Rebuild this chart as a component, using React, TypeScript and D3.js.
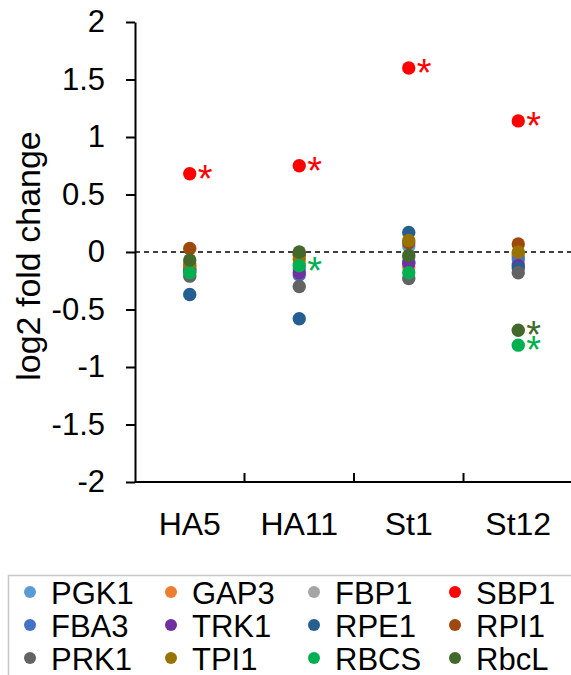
import React, { useEffect, useRef } from "react";
import * as d3 from "d3";

// samples on the x axis
const categories = ["HA5", "HA11", "St1", "St12"];

// series in legend order (row by row), log2 fold change per sample
const seriesNames = [
  "PGK1", "GAP3", "FBP1", "SBP1",
  "FBA3", "TRK1", "RPE1", "RPI1",
  "PRK1", "TPI1", "RBCS", "RbcL",
];
const seriesColors = [
  "#5B9BD5", "#ED7D31", "#A5A5A5", "#FF0000",
  "#4472C4", "#7030A0", "#255E91", "#9E480E",
  "#636363", "#997300", "#00B050", "#43682B",
];
const PGK1 = [-0.12, -0.15, 0.05, -0.04];
const GAP3 = [-0.1, -0.03, -0.13, -0.02];
const FBP1 = [-0.15, -0.1, -0.05, -0.1];
const SBP1 = [0.68, 0.75, 1.6, 1.14];
const FBA3 = [-0.15, -0.2, -0.09, -0.06];
const TRK1 = [-0.17, -0.18, -0.1, -0.12];
const RPE1 = [-0.37, -0.58, 0.17, -0.14];
const RPI1 = [0.03, -0.02, 0.08, 0.07];
const PRK1 = [-0.21, -0.3, -0.23, -0.18];
const TPI1 = [-0.12, -0.06, 0.1, 0.0];
const RBCS = [-0.18, -0.12, -0.18, -0.81];
const RbcL = [-0.07, 0.0, -0.03, -0.68];
const seriesValues = [
  PGK1, GAP3, FBP1, SBP1,
  FBA3, TRK1, RPE1, RPI1,
  PRK1, TPI1, RBCS, RbcL,
];

// significant points, marked with an asterisk
const starred = [
  ["SBP1", "HA5"],
  ["SBP1", "HA11"],
  ["SBP1", "St1"],
  ["SBP1", "St12"],
  ["RBCS", "HA11"],
  ["RBCS", "St12"],
  ["RbcL", "St12"],
];

const yTicks = [-2, -1.5, -1, -0.5, 0, 0.5, 1, 1.5, 2];

const FONT = "'Liberation Sans', Arial, sans-serif";

const App = () => {
  const ref = useRef<SVGSVGElement>(null);

  useEffect(() => {
    const svg = d3.select(ref.current);
    svg.selectAll("*").remove();

    const left = 135;
    const top = 22;
    const bottom = 482;

    const x = d3.scaleBand().domain(categories).range([left, 573]).padding(0);
    const y = d3.scaleLinear().domain([-2, 2]).range([bottom, top]);

    // y axis
    const yAxis = svg
      .append("g")
      .attr("transform", `translate(${left},0)`)
      .call(
        d3
          .axisLeft(y)
          .tickValues(yTicks)
          .tickSize(9)
          .tickSizeOuter(0)
          .tickPadding(21)
          .tickFormat((d) => String(d))
      );
    yAxis.select(".domain").attr("stroke", "#000").attr("stroke-width", 2);
    yAxis.selectAll(".tick line").attr("stroke", "#000").attr("stroke-width", 2);
    yAxis
      .selectAll(".tick text")
      .attr("fill", "#000")
      .style("font-family", FONT)
      .style("font-size", "31px");

    // zero line
    svg
      .append("line")
      .attr("x1", left)
      .attr("x2", 573)
      .attr("y1", y(0))
      .attr("y2", y(0))
      .attr("stroke", "#000")
      .attr("stroke-width", 1.3)
      .attr("stroke-dasharray", "5,4");

    // x axis
    svg
      .append("line")
      .attr("x1", left)
      .attr("x2", 573)
      .attr("y1", bottom)
      .attr("y2", bottom)
      .attr("stroke", "#000")
      .attr("stroke-width", 2);

    categories.forEach((c, i) => {
      if (i > 0) {
        svg
          .append("line")
          .attr("x1", x(c))
          .attr("x2", x(c))
          .attr("y1", bottom)
          .attr("y2", bottom - 9)
          .attr("stroke", "#000")
          .attr("stroke-width", 2);
      }
      svg
        .append("text")
        .attr("x", x(c) + x.bandwidth() / 2)
        .attr("y", 535)
        .attr("text-anchor", "middle")
        .style("font-family", FONT)
        .style("font-size", "32px")
        .text(c);
    });

    // y label
    svg
      .append("text")
      .attr("transform", `translate(40,${(top + bottom) / 2 + 4}) rotate(-90)`)
      .attr("text-anchor", "middle")
      .style("font-family", FONT)
      .style("font-size", "34px")
      .text("log2 fold change");

    // points
    const pts = svg.append("g");
    seriesNames.forEach((name, s) => {
      seriesValues[s].forEach((v, i) => {
        pts
          .append("circle")
          .attr("cx", x(categories[i]) + x.bandwidth() / 2)
          .attr("cy", y(v))
          .attr("r", 6.7)
          .attr("fill", seriesColors[s]);
      });
    });

    // asterisks
    starred.forEach(([name, cat]) => {
      const s = seriesNames.indexOf(name);
      const i = categories.indexOf(cat);
      svg
        .append("text")
        .attr("x", x(cat) + x.bandwidth() / 2 + 15.5)
        .attr("y", y(seriesValues[s][i]) + 18)
        .attr("text-anchor", "middle")
        .attr("fill", seriesColors[s])
        .style("font-family", FONT)
        .style("font-size", "38px")
        .text("*");
    });

    // legend
    svg
      .append("rect")
      .attr("x", 8.5)
      .attr("y", 575.5)
      .attr("width", 600)
      .attr("height", 200)
      .attr("fill", "none")
      .attr("stroke", "#c8c8c8")
      .attr("stroke-width", 1.5);

    const colMarker = [30, 171, 314, 455];
    const colText = [51, 192, 335, 476];
    seriesNames.forEach((name, s) => {
      const col = s % 4;
      const row = Math.floor(s / 4);
      const cy = 592 + row * 33;
      svg
        .append("circle")
        .attr("cx", colMarker[col])
        .attr("cy", cy)
        .attr("r", 6)
        .attr("fill", seriesColors[s]);
      svg
        .append("text")
        .attr("x", colText[col])
        .attr("y", cy + 11.5)
        .style("font-family", FONT)
        .style("font-size", "31px")
        .text(name);
    });
  }, []);

  return (
    <svg
      ref={ref}
      width={571}
      height={675}
      style={{ position: "absolute", left: 0, top: 0, background: "#fff" }}
    />
  );
};

export default App;
